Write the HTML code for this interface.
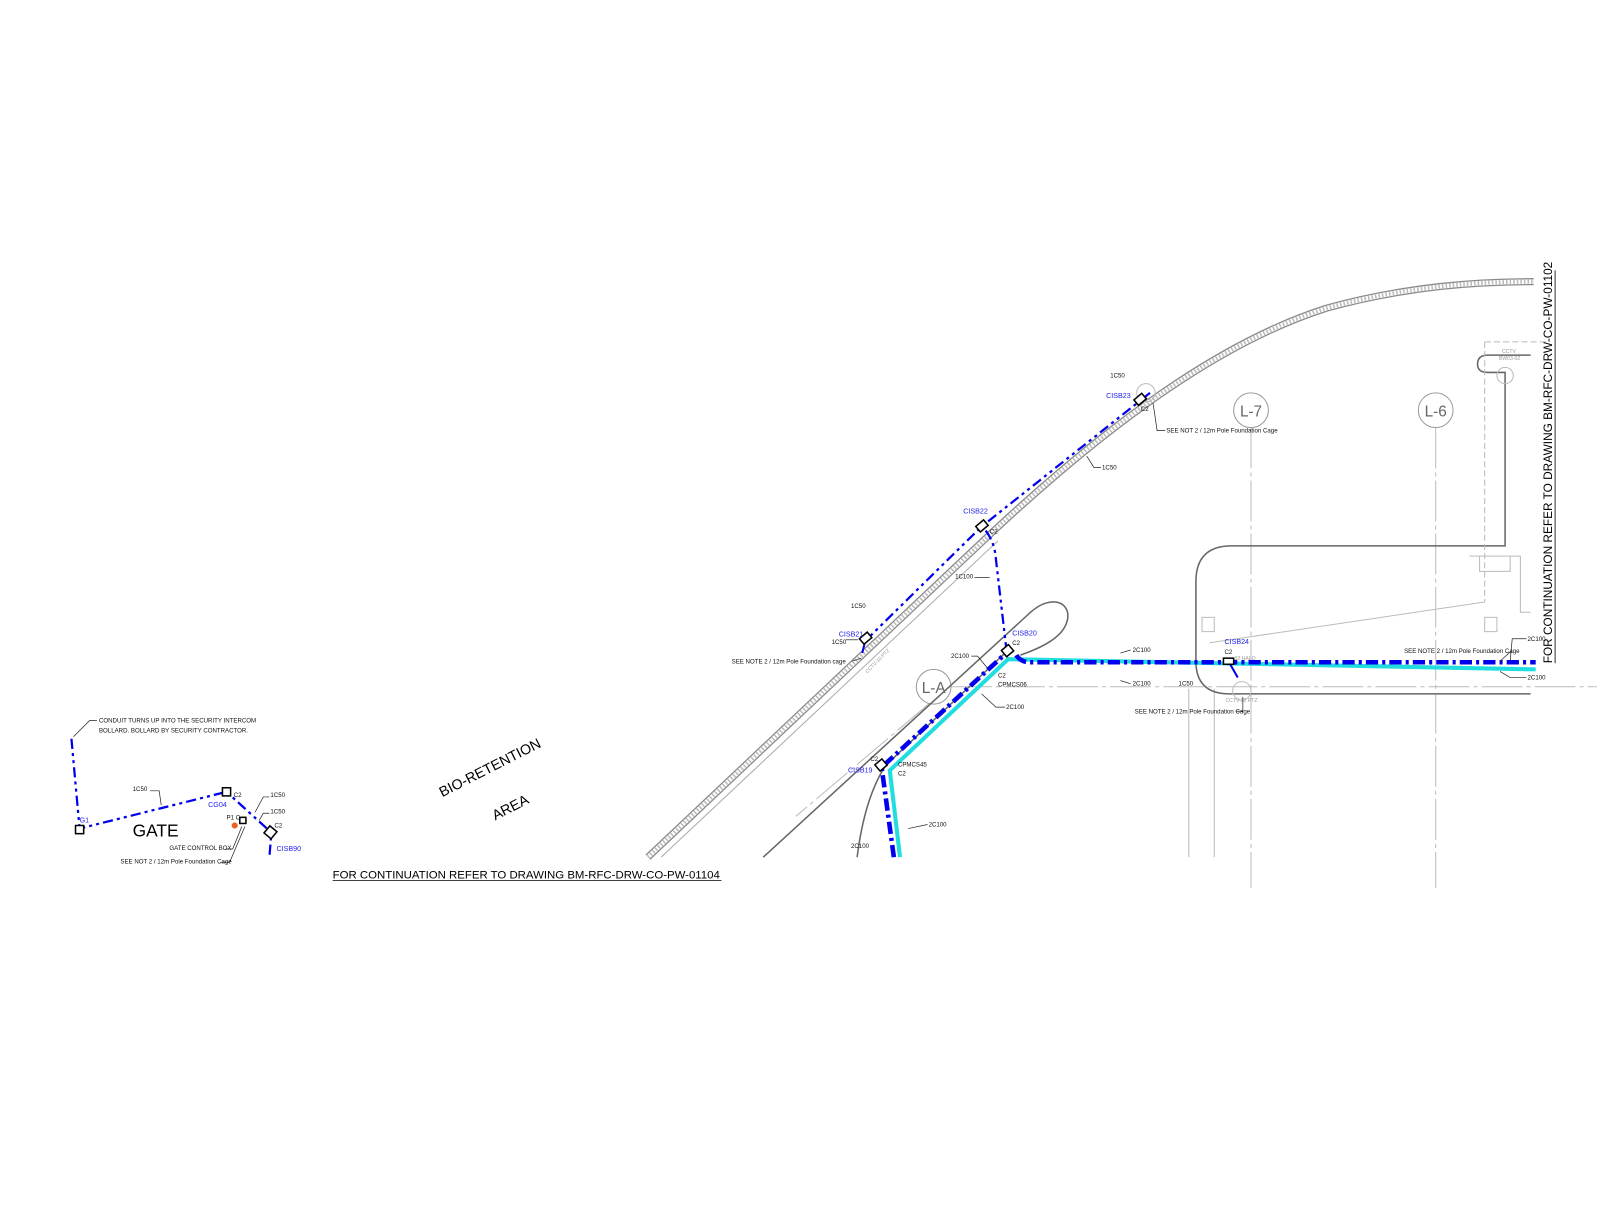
<!DOCTYPE html>
<html><head><meta charset="utf-8"><style>
html,body{margin:0;padding:0;background:#fff}
svg{display:block}
text{font-family:"Liberation Sans",sans-serif}
</style></head><body>
<svg width="1600" height="1222" viewBox="0 0 1600 1222" xmlns="http://www.w3.org/2000/svg">
<g transform="scale(1.0204)">
<!-- hatched band -->
<path d="M635,840 L972,522 C1060,440 1180,340 1300,302 C1380,280 1450,276 1503,276" fill="none" stroke="#8a8a8a" stroke-width="7"/>
<path d="M635,840 L972,522 C1060,440 1180,340 1300,302 C1380,280 1450,276 1503,276" fill="none" stroke="#fff" stroke-width="4.5"/>
<path d="M635,840 L972,522 C1060,440 1180,340 1300,302 C1380,280 1450,276 1503,276" fill="none" stroke="#bbb" stroke-width="4" stroke-dasharray="1.5 2"/>
<path d="M648,840 L978,530" fill="none" stroke="#aaa" stroke-width="1"/>

<g stroke="#bbb" stroke-width="1" stroke-dasharray="40 4 4 4" fill="none">
<line x1="1226" y1="419" x2="1226" y2="870"/>
<line x1="1407" y1="419" x2="1407" y2="870"/>
<line x1="932" y1="673" x2="1565" y2="673"/>
<line x1="910" y1="690" x2="780" y2="800"/>
</g>
<g stroke="#bbb" stroke-width="1" fill="none">
<line x1="1165" y1="675" x2="1165" y2="840"/>
<line x1="1190" y1="675" x2="1190" y2="840"/>
</g>
<g fill="#fff" stroke="#999" stroke-width="1">
<circle cx="1226" cy="402" r="17"/><circle cx="1407" cy="402" r="17"/><circle cx="915" cy="673" r="17"/>
</g>
<g font-size="15" fill="#666" text-anchor="middle">
<text x="1226" y="408">L-7</text><text x="1407" y="408">L-6</text><text x="915" y="679">L-A</text>
</g>

<g stroke="#666" stroke-width="1.5" fill="none">
<path d="M748,840 L1010,600 C1030,582 1050,590 1046,608 C1042,625 1020,635 1000,642"/>
<path d="M840,840 C845,800 855,770 868,750"/>
<path d="M868,750 L985,640"/>
<path d="M1500,680 L1205,680 Q1172,680 1172,648 L1172,570 Q1172,535 1207,535 L1475,535 L1475,365 L1458,365 Q1448,365 1448,357 Q1448,348 1458,348 L1500,348"/>
</g>
<g stroke="#bbb" stroke-width="1" fill="none">
<path d="M1185,630 L1455,590"/>
<path d="M1455,335 L1515,335 M1455,335 L1455,590" stroke-dasharray="6 3"/>
<path d="M1440,545 L1480,545 L1480,560 L1450,560 L1450,545 M1480,545 L1490,545 L1490,600 L1500,600"/>
<rect x="1178" y="605" width="12" height="14"/><rect x="1455" y="605" width="12" height="14"/>
<circle cx="1475" cy="368" r="8"/><circle cx="1217" cy="677" r="9"/><circle cx="1123" cy="385" r="9"/>
</g>

<g stroke="#22dde0" stroke-width="4" fill="none">
<path d="M882,840 L872,755 L988,646 L1505,656"/>
</g>
<g stroke="#0000ee" stroke-width="4.5" fill="none" stroke-dasharray="12 4 3 4">
<path d="M876,840 L864,752 L986,640"/>
<path d="M996,642 Q1000,649 1010,649 L1505,649"/>
</g>
<g stroke="#0000ee" stroke-width="2.2" fill="none" stroke-dasharray="10 4 3 4 3 4">
<path d="M848,628 L962,516 L1117,393 L1127,385"/>
<path d="M966,520 Q975,532 976,548 L986,634"/>
<path d="M70,724 L78,812 L222,776 L266,816 L264,840"/>
</g>
<g stroke="#0000ee" stroke-width="2" fill="none">
<path d="M848,628 L845,640"/><path d="M1205,650 L1213,664"/>
</g>
<g fill="#fff" stroke="#000" stroke-width="1.5">
<rect x="74" y="809" width="8" height="8"/>
<rect x="218" y="772" width="8" height="8"/>
<rect x="261" y="811" width="9" height="9" transform="rotate(40 265 815)"/>
<rect x="843" y="622" width="10" height="7" transform="rotate(-40 848 625)"/>
<rect x="957" y="512" width="10" height="7" transform="rotate(-40 962 515)"/>
<rect x="1112" y="388" width="10" height="7" transform="rotate(-40 1117 391)"/>
<rect x="983" y="634" width="9" height="8" transform="rotate(-40 987 638)"/>
<rect x="859" y="746" width="9" height="8" transform="rotate(-40 863 750)"/>
<rect x="1199" y="645" width="10" height="6"/>
<rect x="235" y="801" width="6" height="6"/>
</g>
<circle cx="230" cy="809" r="3" fill="#f06020"/>

<g font-size="7" fill="#2222ee">
<text x="78" y="806">G1</text><text x="204" y="791">CG04</text><text x="271" y="834">CISB90</text>
<text x="822" y="624">CISB21</text><text x="944" y="503">CISB22</text><text x="1084" y="390">CISB23</text>
<text x="992" y="623">CISB20</text><text x="831" y="757">CISB19</text><text x="1200" y="631">CISB24</text>
</g>
<g font-size="6" fill="#111">
<text x="97" y="708">CONDUIT TURNS UP INTO THE SECURITY INTERCOM</text>
<text x="97" y="718">BOLLARD. BOLLARD BY SECURITY CONTRACTOR.</text>
<text x="130" y="775">1C50</text><text x="229" y="781">C2</text>
<text x="265" y="781">1C50</text><text x="265" y="797">1C50</text><text x="269" y="811">C2</text>
<text x="222" y="803">P1 C</text>
<text x="166" y="833">GATE CONTROL BOX</text>
<text x="118" y="846">SEE NOT 2 / 12m Pole Foundation Cage</text>
<text x="834" y="596">1C50</text><text x="815" y="631">1C50</text>
<text x="717" y="650">SEE NOTE 2 / 12m Pole Foundation cage</text>
<text x="1088" y="370">1C50</text><text x="1118" y="403">C2</text>
<text x="1143" y="424">SEE NOT 2 / 12m Pole Foundation Cage</text>
<text x="1080" y="460">1C50</text><text x="970" y="523">C2</text>
<text x="936" y="567">1C100</text>
<text x="992" y="632">C2</text><text x="932" y="645">2C100</text>
<text x="978" y="664">C2</text><text x="978" y="673">CPMCS06</text>
<text x="986" y="695">2C100</text>
<text x="853" y="746">C2</text><text x="880" y="751">CPMCS45</text><text x="880" y="760">C2</text>
<text x="910" y="810">2C100</text><text x="834" y="831">2C100</text>
<text x="1110" y="639">2C100</text><text x="1110" y="672">2C100</text>
<text x="1155" y="672">1C50</text><text x="1200" y="641">C2</text>
<text x="1112" y="699">SEE NOTE 2 / 12m Pole Foundation Cage</text>
<text x="1376" y="640">SEE NOTE 2 / 12m Pole Foundation Cage</text>
<text x="1497" y="628">2C100</text><text x="1497" y="666">2C100</text>
</g>
<g font-size="5" fill="#999">
<text x="1472" y="346">CCTV</text><text x="1469" y="353">BW03-02</text>
<text x="1201" y="688">CCTV-32 PTZ</text><text x="1210" y="647">32 HALO</text>
<text x="850" y="660" transform="rotate(-45 850 660)">CCTV-10 PTZ</text>
</g>
<g stroke="#222" stroke-width="0.7" fill="none">
<path d="M95,706 L88,706 L72,722"/><path d="M147,775 L156,775 L158,789"/>
<path d="M264,781 L258,781 L250,796"/><path d="M264,797 L258,797 L254,804"/>
<path d="M221,832 L228,832 L237,810"/><path d="M216,845 L225,845 L240,810"/>
<path d="M829,627 L841,627"/><path d="M835,648 L844,645"/>
<path d="M1142,422 L1134,422 L1130,395"/><path d="M1079,458 L1072,458 L1065,447"/>
<path d="M955,566 L970,566"/><path d="M952,643 L958,643 L968,655"/>
<path d="M985,693 L976,693 L962,680"/><path d="M909,808 L890,812"/>
<path d="M1108,637 L1098,640"/><path d="M1108,670 L1098,667"/>
<path d="M1211,697 L1218,697 L1218,683"/><path d="M1481,638 L1470,648"/>
<path d="M1496,626 L1482,626 L1480,648"/><path d="M1496,664 L1480,664 L1470,658"/>
</g>
<text x="130" y="820" font-size="17" fill="#000">GATE</text>
<text x="480" y="757" font-size="14" fill="#000" text-anchor="middle" transform="rotate(-27 480 752)">BIO-RETENTION</text>
<text x="500" y="796" font-size="14" fill="#000" text-anchor="middle" transform="rotate(-27 500 791)">AREA</text>
<text x="326" y="861" font-size="11.2" fill="#000">FOR CONTINUATION REFER TO DRAWING  BM-RFC-DRW-CO-PW-01104</text>
<line x1="326" y1="863" x2="707" y2="863" stroke="#000" stroke-width="0.8"/>
<text x="0" y="0" font-size="11.6" fill="#000" transform="translate(1521,650) rotate(-90)">FOR CONTINUATION REFER TO DRAWING  BM-RFC-DRW-CO-PW-01102</text>
<line x1="1524" y1="265" x2="1524" y2="650" stroke="#000" stroke-width="0.8"/>
</g>
</svg>
</body></html>
